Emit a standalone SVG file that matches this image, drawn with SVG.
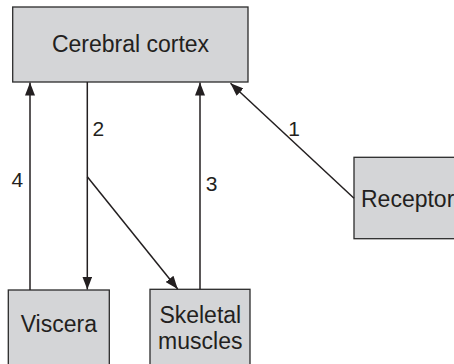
<svg xmlns="http://www.w3.org/2000/svg" width="454" height="364" viewBox="0 0 454 364">
<style>
.box{fill:#d4d5d7;stroke:#2b2b2b;stroke-width:1.3}
.t{font-family:"Liberation Sans",Arial,sans-serif;font-size:23px;fill:#231f20}
.c{fill:none;stroke:#231f20;stroke-width:1.5}
</style>
<defs>
<marker id="ah" markerUnits="userSpaceOnUse" markerWidth="13" markerHeight="10" viewBox="0 0 13 10" refX="13" refY="5" orient="auto">
<path d="M0,0 L13,5 L0,10 z" fill="#231f20"/>
</marker>
</defs>
<rect width="454" height="364" fill="#ffffff"/>
<g id="cortex">
<rect class="box" x="12.7" y="7" width="235.3" height="75"/>
<text class="t" x="130.5" y="52" text-anchor="middle">Cerebral cortex</text>
</g>
<g id="receptor">
<rect class="box" x="354" y="157.3" width="110" height="81.4"/>
<text class="t" x="361" y="206.7">Receptor</text>
</g>
<g id="viscera">
<rect class="box" x="8.3" y="290" width="101" height="80"/>
<text class="t" x="58.8" y="331.7" text-anchor="middle">Viscera</text>
</g>
<g id="skeletal">
<rect class="box" x="150" y="289.3" width="100" height="80"/>
<text class="t" x="200.3" y="322.7" text-anchor="middle">Skeletal</text>
<text class="t" x="200.3" y="349.3" text-anchor="middle">muscles</text>
</g>
<g id="connectors">
<line class="c" x1="30" y1="290" x2="30" y2="82.5" marker-end="url(#ah)"/>
<line class="c" x1="87.3" y1="82" x2="87.3" y2="289.5" marker-end="url(#ah)"/>
<line class="c" x1="87.3" y1="176.7" x2="177.7" y2="289" marker-end="url(#ah)"/>
<line class="c" x1="200" y1="289.3" x2="200" y2="82.5" marker-end="url(#ah)"/>
<line class="c" x1="354" y1="198.3" x2="230.5" y2="83.3" marker-end="url(#ah)"/>
<text class="t" x="294" y="135.7" text-anchor="middle" style="font-size:21px">1</text>
<text class="t" x="98.3" y="136" text-anchor="middle" style="font-size:21px">2</text>
<text class="t" x="211.7" y="190.7" text-anchor="middle" style="font-size:21px">3</text>
<text class="t" x="17.3" y="187.3" text-anchor="middle" style="font-size:21px">4</text>
</g>
</svg>
